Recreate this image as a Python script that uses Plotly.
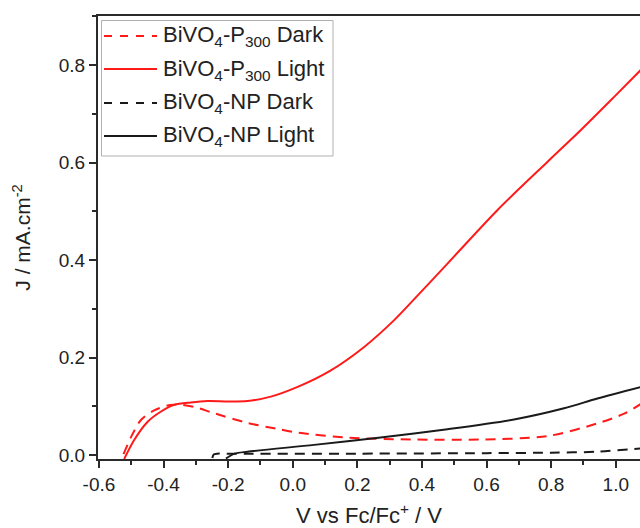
import plotly.graph_objects as go

# Linear sweep voltammetry, potential vs Fc/Fc+ (V) and current density (mA/cm^2)
p300_dark_v = [-0.524, -0.50, -0.47, -0.429, -0.378, -0.34, -0.30, -0.244, -0.14, -0.05,
               0.015, 0.169, 0.376, 0.582, 0.789, 0.943, 1.026, 1.08]
p300_dark_j = [0.002, 0.038, 0.072, 0.092, 0.103, 0.103, 0.098, 0.086, 0.066, 0.054,
               0.046, 0.036, 0.032, 0.032, 0.039, 0.065, 0.085, 0.106]

p300_light_v = [-0.522, -0.491, -0.45, -0.409, -0.367, -0.316, -0.264, -0.20, -0.14, -0.068,
                0.015, 0.118, 0.221, 0.314, 0.376, 0.479, 0.634, 0.789, 0.892, 0.995, 1.08]
p300_light_j = [-0.008, 0.031, 0.068, 0.089, 0.103, 0.108, 0.111, 0.110, 0.111, 0.120,
                0.140, 0.174, 0.222, 0.277, 0.320, 0.393, 0.503, 0.602, 0.667, 0.735, 0.792]

np_dark_v = [-0.249, -0.245, -0.235, -0.20, 0.2, 0.6, 0.8, 0.943, 1.08]
np_dark_j = [-0.006, 0.001, 0.003, 0.003, 0.003, 0.004, 0.005, 0.007, 0.014]

np_light_v = [-0.207, -0.18, -0.14, 0.066, 0.272, 0.479, 0.685, 0.840, 0.943, 1.08]
np_light_j = [-0.007, 0.003, 0.007, 0.021, 0.036, 0.053, 0.073, 0.096, 0.116, 0.140]

series_names = [
    "BiVO<sub>4</sub>-P<sub>300</sub> Dark",
    "BiVO<sub>4</sub>-P<sub>300</sub> Light",
    "BiVO<sub>4</sub>-NP Dark",
    "BiVO<sub>4</sub>-NP Light",
]

x_ticks = [-0.6, -0.4, -0.2, 0.0, 0.2, 0.4, 0.6, 0.8, 1.0]
x_tick_text = ["-0.6", "-0.4", "-0.2", "0.0", "0.2", "0.4", "0.6", "0.8", "1.0"]
y_ticks = [0.0, 0.2, 0.4, 0.6, 0.8]
y_tick_text = ["0.0", "0.2", "0.4", "0.6", "0.8"]

RED = "#ff1a1a"
BLACK = "#1a1a1a"
TEXT = "#222222"
AXIS = "#2a2a2a"
FONT = "Liberation Sans, Arial, sans-serif"
DASH = "10px,7px"

W, H = 640, 528
M_L, M_R, M_T, M_B = 98, 0, 16, 69
PLOT_W = W - M_L - M_R
PLOT_H = H - M_T - M_B


def px_to_paper(px, py):
    """Pixel position in the page -> paper coordinates of the plot area."""
    return (px - M_L) / PLOT_W, (H - M_B - py) / PLOT_H


styles = [(RED, DASH), (RED, "solid"), (BLACK, DASH), (BLACK, "solid")]
data = [(p300_dark_v, p300_dark_j), (p300_light_v, p300_light_j),
        (np_dark_v, np_dark_j), (np_light_v, np_light_j)]

fig = go.Figure()
for name, (v, j), (color, dash) in zip(series_names, data, styles):
    fig.add_trace(go.Scatter(
        x=v, y=j, mode="lines", name=name, showlegend=False,
        line=dict(color=color, width=2, dash=dash, shape="spline", smoothing=0.8),
    ))

# Legend box drawn in the upper-left corner of the plot area
shapes, annotations = [], []
bx0, by0 = px_to_paper(101.5, 156)
bx1, by1 = px_to_paper(333, 20.5)
shapes.append(dict(type="rect", xref="paper", yref="paper", x0=bx0, y0=by0, x1=bx1, y1=by1,
                   line=dict(color="#b0b0b0", width=1), fillcolor="white", layer="above"))
row_y = [36, 69, 103, 136]
for name, (color, dash), ry in zip(series_names, styles, row_y):
    lx0, ly = px_to_paper(104, ry)
    lx1, _ = px_to_paper(157, ry)
    shapes.append(dict(type="line", xref="paper", yref="paper", x0=lx0, y0=ly, x1=lx1, y1=ly,
                       line=dict(color=color, width=2, dash="8px,8px" if dash != "solid" else "solid"),
                       layer="above"))
    tx, ty = px_to_paper(161, ry + 0.5)
    annotations.append(dict(xref="paper", yref="paper", x=tx, y=ty, text=name,
                            showarrow=False, xanchor="left", yanchor="middle",
                            font=dict(family=FONT, size=22, color=TEXT)))

axis_common = dict(
    showgrid=False, zeroline=False, showline=True, linecolor=AXIS, linewidth=2,
    ticks="outside", ticklen=7, tickwidth=1.5, tickcolor=AXIS,
    tickfont=dict(family=FONT, size=19, color=TEXT),
)

fig.update_layout(
    width=W, height=H,
    margin=dict(l=M_L, r=M_R, t=M_T, b=M_B),
    paper_bgcolor="white", plot_bgcolor="white",
    font=dict(family=FONT, color=TEXT),
    showlegend=False,
    shapes=shapes,
    annotations=annotations,
    xaxis=dict(
        range=[-0.603, 1.075], tickmode="array", tickvals=x_ticks, ticktext=x_tick_text,
        mirror=True,
        minor=dict(ticks="outside", ticklen=4, tickwidth=1.5, tickcolor=AXIS,
                   tickmode="linear", tick0=-0.5, dtick=0.2),
        title=dict(text="V vs Fc/Fc<sup>+</sup> / V", font=dict(family=FONT, size=22, color=TEXT),
                   standoff=14),
        **axis_common,
    ),
    yaxis=dict(
        range=[-0.008, 0.901], tickmode="array", tickvals=y_ticks, ticktext=y_tick_text,
        mirror=False,
        minor=dict(ticks="outside", ticklen=4, tickwidth=1.5, tickcolor=AXIS,
                   tickmode="linear", tick0=0.1, dtick=0.2),
        title=dict(text="J / mA.cm<sup>-2</sup>", font=dict(family=FONT, size=21, color=TEXT),
                   standoff=22),
        **axis_common,
    ),
)

fig.write_html("out.html")
